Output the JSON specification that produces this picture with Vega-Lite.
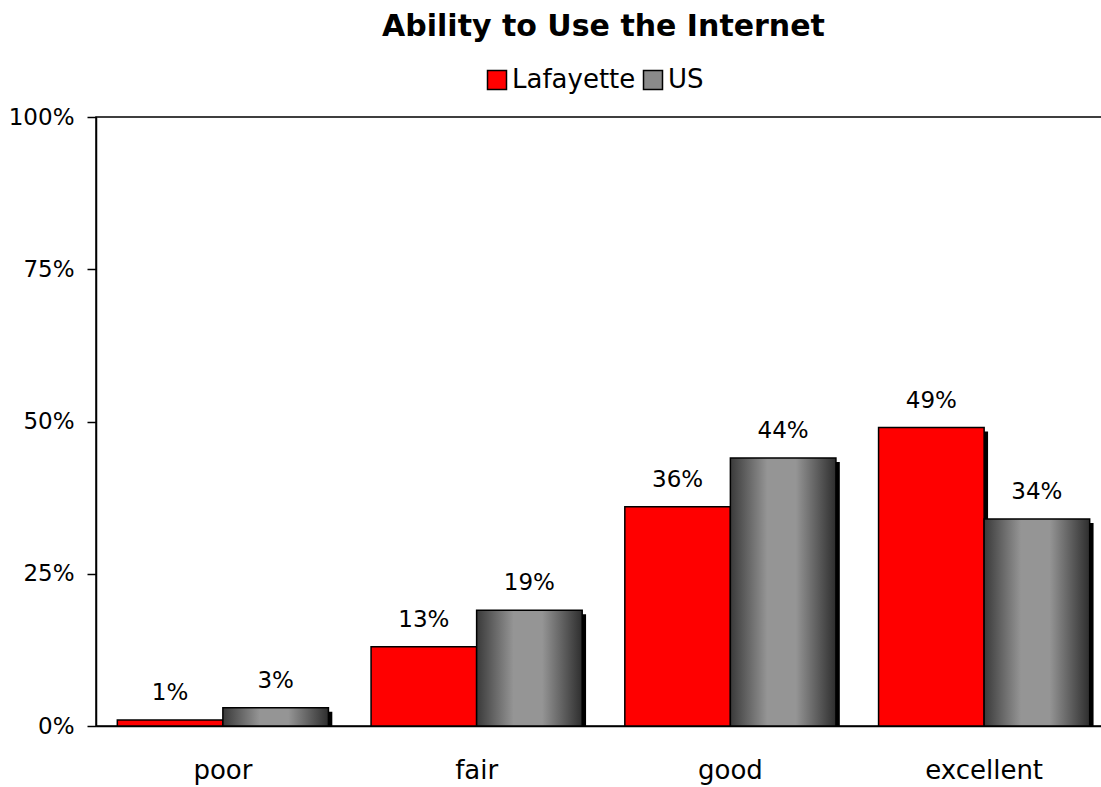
{
  "$schema": "https://vega.github.io/schema/vega-lite/v6.json",
  "width": 1015,
  "height": 609,
  "autosize": "none",
  "padding": {"left": 96, "top": 117, "right": 0, "bottom": 61},
  "background": "white",
  "config": {
    "view": {"stroke": "black", "strokeWidth": 1.5},
    "font": "DejaVu Sans"
  },
  "title": {
    "text": "Ability to Use the Internet",
    "font": "DejaVu Sans",
    "fontSize": 30,
    "fontWeight": "bold",
    "color": "black",
    "anchor": "middle",
    "offset": 25
  },
  "data": {
    "values": [
      {"rating": "poor", "area": "Lafayette", "share": 0.01},
      {"rating": "poor", "area": "US", "share": 0.03},
      {"rating": "fair", "area": "Lafayette", "share": 0.13},
      {"rating": "fair", "area": "US", "share": 0.19},
      {"rating": "good", "area": "Lafayette", "share": 0.36},
      {"rating": "good", "area": "US", "share": 0.44},
      {"rating": "excellent", "area": "Lafayette", "share": 0.49},
      {"rating": "excellent", "area": "US", "share": 0.34}
    ]
  },
  "encoding": {
    "x": {
      "field": "rating",
      "type": "nominal",
      "sort": ["poor", "fair", "good", "excellent"],
      "scale": {"paddingInner": 0.168, "paddingOuter": 0.084},
      "axis": {
        "title": null,
        "ticks": false,
        "labelAngle": 0,
        "labelFont": "DejaVu Sans",
        "labelFontSize": 26,
        "labelColor": "black",
        "labelPadding": 31,
        "domainColor": "black",
        "domainWidth": 1.5
      }
    },
    "y": {
      "field": "share",
      "type": "quantitative",
      "scale": {"domain": [0, 1]},
      "axis": {
        "title": null,
        "values": [0, 0.25, 0.5, 0.75, 1],
        "format": ".0%",
        "grid": false,
        "labelFont": "DejaVu Sans",
        "labelFontSize": 23,
        "labelColor": "black",
        "labelPadding": 13,
        "tickColor": "black",
        "tickSize": 9,
        "tickWidth": 1.5,
        "domainColor": "black",
        "domainWidth": 1.5
      }
    }
  },
  "layer": [
    {
      "mark": {"type": "bar", "fill": "black", "yOffset": 4, "clip": true},
      "encoding": {
        "xOffset": {
          "field": "area",
          "type": "nominal",
          "sort": ["Lafayette", "US"],
          "scale": {"range": [4, 215]}
        }
      }
    },
    {
      "mark": {"type": "bar", "stroke": "black", "strokeWidth": 1.5},
      "encoding": {
        "xOffset": {"field": "area", "type": "nominal", "sort": ["Lafayette", "US"]},
        "fill": {
          "condition": {
            "test": "datum.area === 'US'",
            "value": {
              "gradient": "linear",
              "x1": 0, "y1": 0, "x2": 1, "y2": 0,
              "stops": [
                {"offset": 0, "color": "#3a3a3a"},
                {"offset": 0.35, "color": "#959595"},
                {"offset": 0.62, "color": "#959595"},
                {"offset": 1, "color": "#2e2e2e"}
              ]
            }
          },
          "field": "area",
          "type": "nominal",
          "scale": {"domain": ["Lafayette", "US"], "range": ["#ff0000", "#8a8a8a"]},
          "legend": {
            "title": null,
            "orient": "none",
            "legendX": 388,
            "legendY": -50,
            "direction": "horizontal",
            "symbolType": "square",
            "symbolSize": 361,
            "symbolStrokeColor": "black",
            "symbolStrokeWidth": 1.5,
            "labelFont": "DejaVu Sans",
            "labelFontSize": 26,
            "labelColor": "black",
            "labelOffset": 2,
            "columnPadding": 4
          }
        }
      }
    },
    {
      "mark": {
        "type": "text",
        "baseline": "alphabetic",
        "align": "center",
        "dy": -20,
        "font": "DejaVu Sans",
        "fontSize": 23,
        "color": "black"
      },
      "encoding": {
        "xOffset": {"field": "area", "type": "nominal", "sort": ["Lafayette", "US"]},
        "text": {"field": "share", "type": "quantitative", "format": ".0%"}
      }
    }
  ],
  "resolve": {"scale": {"xOffset": "independent"}}
}
